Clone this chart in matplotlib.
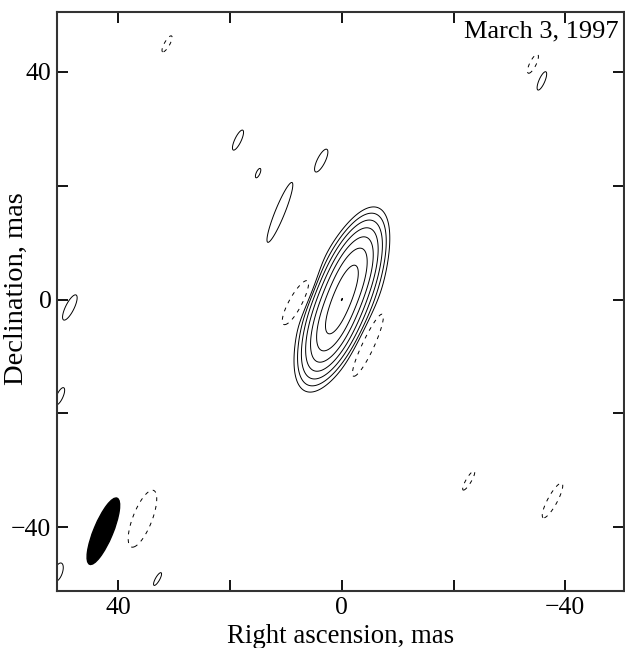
import numpy as np
import matplotlib
matplotlib.use("Agg")
import matplotlib.pyplot as plt
from matplotlib.patches import Ellipse

plt.rcParams['font.family'] = ['Liberation Serif', 'DejaVu Serif']

# ---- Gaussian model components ----
# RA offset (mas), Dec offset (mas), FWHM major (mas), FWHM minor (mas), PA (deg), relative flux
comp_ra   = [-1.44,  1.44, 0.0, 0.0,  7.8,  -4.7,  31.3, -34.2, -35.8, 18.6, 15.0,  3.7, 11.1, 48.7, 50.5, 50.8, 33.0,  35.7, -22.7, -37.7]
comp_dec  = [ 3.56, -3.56, 0.0, 0.0, -0.1,  -7.7,  44.9,  41.4,  38.4, 28.0, 22.2, 24.4, 15.3, -1.4, -17.0, -47.9, -49.1, -38.5, -31.8, -35.3]
comp_maj  = [10.9, 10.9, 14.1, 2.0,  9.2,  11.6,   3.4,   3.9,   3.7,  4.1,  1.9,  4.7, 12.0,  5.2,  3.5,  3.6,  2.7,  11.3,   4.1,   7.3]
comp_min  = [ 4.19, 4.19, 6.95, 1.5, 2.5,   2.2,   1.0,   1.2,   1.1,  1.2,  0.7,  1.5,  1.8,  1.6,  1.2,  1.6,  0.8,   3.6,   1.0,   1.8]
comp_pa   = [-22, -22, -22, -22, -31, -25, -30, -27, -24, -26, -25, -27, -22.5, -27, -25, -20, -30, -22, -31, -29]
comp_flux = [0.656, 0.656, 0.07, 0.02, -0.025, -0.025, -0.019, -0.019, 0.019, 0.019, 0.019, 0.019, 0.019, 0.019, 0.019, 0.019, 0.019, -0.019, -0.019, -0.019]

# contour levels (fraction of peak)
levels_pos = [0.01, 0.02, 0.04, 0.08, 0.16, 0.32, 0.64, 0.999]
levels_neg = [-0.01]

# restoring beam
beam_ra, beam_dec = 42.7, -40.7
beam_maj, beam_min, beam_pa = 12.6, 3.4, -23

xtick_vals = [40, 20, 0, -20, -40]
xtick_labels = ['40', '', '0', '', '\u221240']
ytick_vals = [40, 20, 0, -20, -40]
ytick_labels = ['40', '', '0', '', '\u221240']

# ---- build the model image ----
x = np.arange(-56, 56, 0.08)
y = np.arange(-56, 56, 0.08)
X, Y = np.meshgrid(x, y)
img = np.zeros_like(X)
k = 4 * np.log(2)
for ra, dec, mj, mn, pa, fl in zip(comp_ra, comp_dec, comp_maj, comp_min, comp_pa, comp_flux):
    t = np.deg2rad(pa)
    dx, dy = X - ra, Y - dec
    u = dx * np.sin(t) + dy * np.cos(t)
    v = dx * np.cos(t) - dy * np.sin(t)
    img += fl * np.exp(-k * (u**2 / mj**2 + v**2 / mn**2))
img /= img.max()

fig = plt.figure(figsize=(6.25, 6.48), dpi=100)
ax = fig.add_axes([57/625, 1 - 591/648, 567/625, 579/648])

ax.contour(X, Y, img, levels=levels_pos, colors='k', linewidths=0.7)
ax.contour(X, Y, img, levels=levels_neg, colors='k', linewidths=0.7,
           linestyles=[(0, (4, 5))])

ax.add_patch(Ellipse((beam_ra, beam_dec), width=beam_min, height=beam_maj,
                     angle=-beam_pa, facecolor='k', edgecolor='k'))

ax.set_xlim(51, -50.5)
ax.set_ylim(-51.2, 50.5)
ax.set_xticks(xtick_vals)
ax.set_xticklabels(xtick_labels)
ax.set_yticks(ytick_vals)
ax.set_yticklabels(ytick_labels)
ax.tick_params(direction='in', top=True, right=True, length=8, width=1.3,
               labelsize=18.5, colors='k', pad=4)
for s in ax.spines.values():
    s.set_linewidth(1.5)
    s.set_color('#333333')

ax.set_xlabel('Right ascension, mas', fontsize=19.3)
ax.set_ylabel('Declination, mas', fontsize=20.5)
ax.xaxis.set_label_coords(0.5, -0.057)
ax.yaxis.set_label_coords(-0.049, 0.522)

ax.text(0.99, 0.985, 'March 3, 1997', transform=ax.transAxes, ha='right', va='top', fontsize=19)

fig.savefig('out.png', dpi=100)
